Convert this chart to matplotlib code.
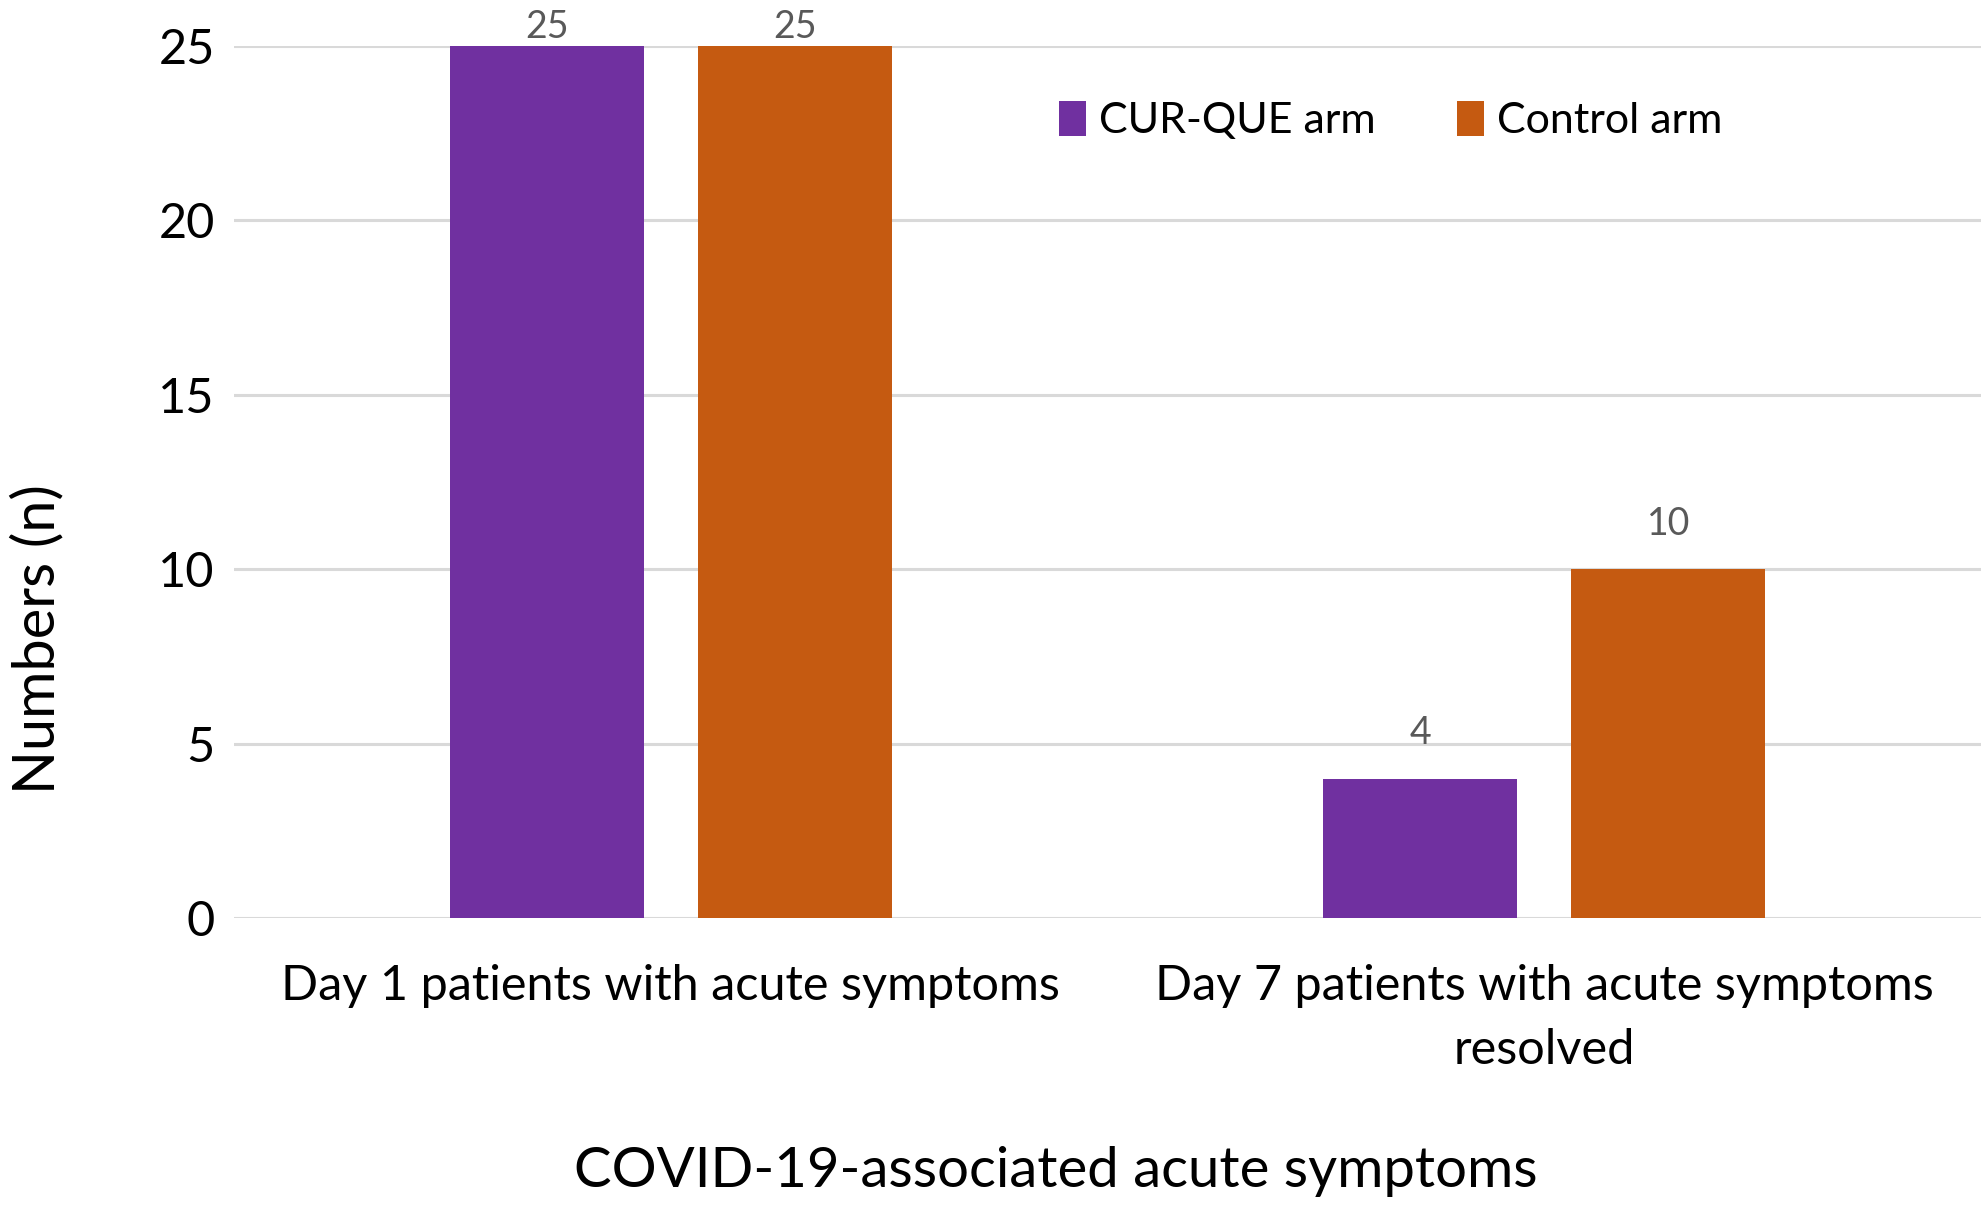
import matplotlib
matplotlib.use("Agg")
import matplotlib.pyplot as plt
import numpy as np

categories = ["Day 1 patients with acute symptoms", "Day 7 patients with acute symptoms\nresolved"]
series_names = ["CUR-QUE arm", "Control arm"]
cur_que = [25, 4]
control = [25, 10]
yticks = [0, 5, 10, 15, 20, 25]

colors = ["#7030A0", "#C55A11"]
plt.rcParams['font.family'] = ['Lato', 'DejaVu Sans']

fig = plt.figure(figsize=(19.85, 12.05), dpi=100)
ax = fig.add_axes([0.118, 0.238, 0.880, 0.724])

x = np.arange(len(categories))
w = 0.222
off = 0.142
for vals, name, col, o in [(cur_que, series_names[0], colors[0], -off),
                           (control, series_names[1], colors[1], off)]:
    bars = ax.bar(x + o, vals, width=w, color=col, label=name, zorder=3)
    for b, v in zip(bars, vals):
        ax.text(b.get_x() + b.get_width() / 2, min(v + 1.3, 25.55), str(v), ha='center', va='center',
                fontsize=27, color='#595959', clip_on=False)

ax.set_xlim(-0.5, 1.5)
ax.set_ylim(0, 25)
ax.set_yticks(yticks)
ax.set_xticks(x)
ax.set_xticklabels(categories, fontsize=35, linespacing=1.55)
ax.tick_params(axis='y', labelsize=35, length=0, pad=14)
ax.tick_params(axis='x', length=0, pad=33)
ax.grid(axis='y', color='#d9d9d9', linewidth=2.2, zorder=0)
for s in ax.spines.values():
    s.set_visible(False)

fig.text(0.019, 0.47, "Numbers (n)", rotation=90, fontsize=41.5, ha='center', va='center')
fig.text(0.532, 0.028, "COVID-19-associated acute symptoms", fontsize=40.5, ha='center', va='center')

ax.legend(loc='center left', bbox_to_anchor=(0.450, 0.914), ncol=2, frameon=False, fontsize=31,
          handlelength=0.62, handleheight=0.85, handletextpad=0.3, columnspacing=1.9)

fig.savefig("out.png", dpi=100, facecolor='white')
